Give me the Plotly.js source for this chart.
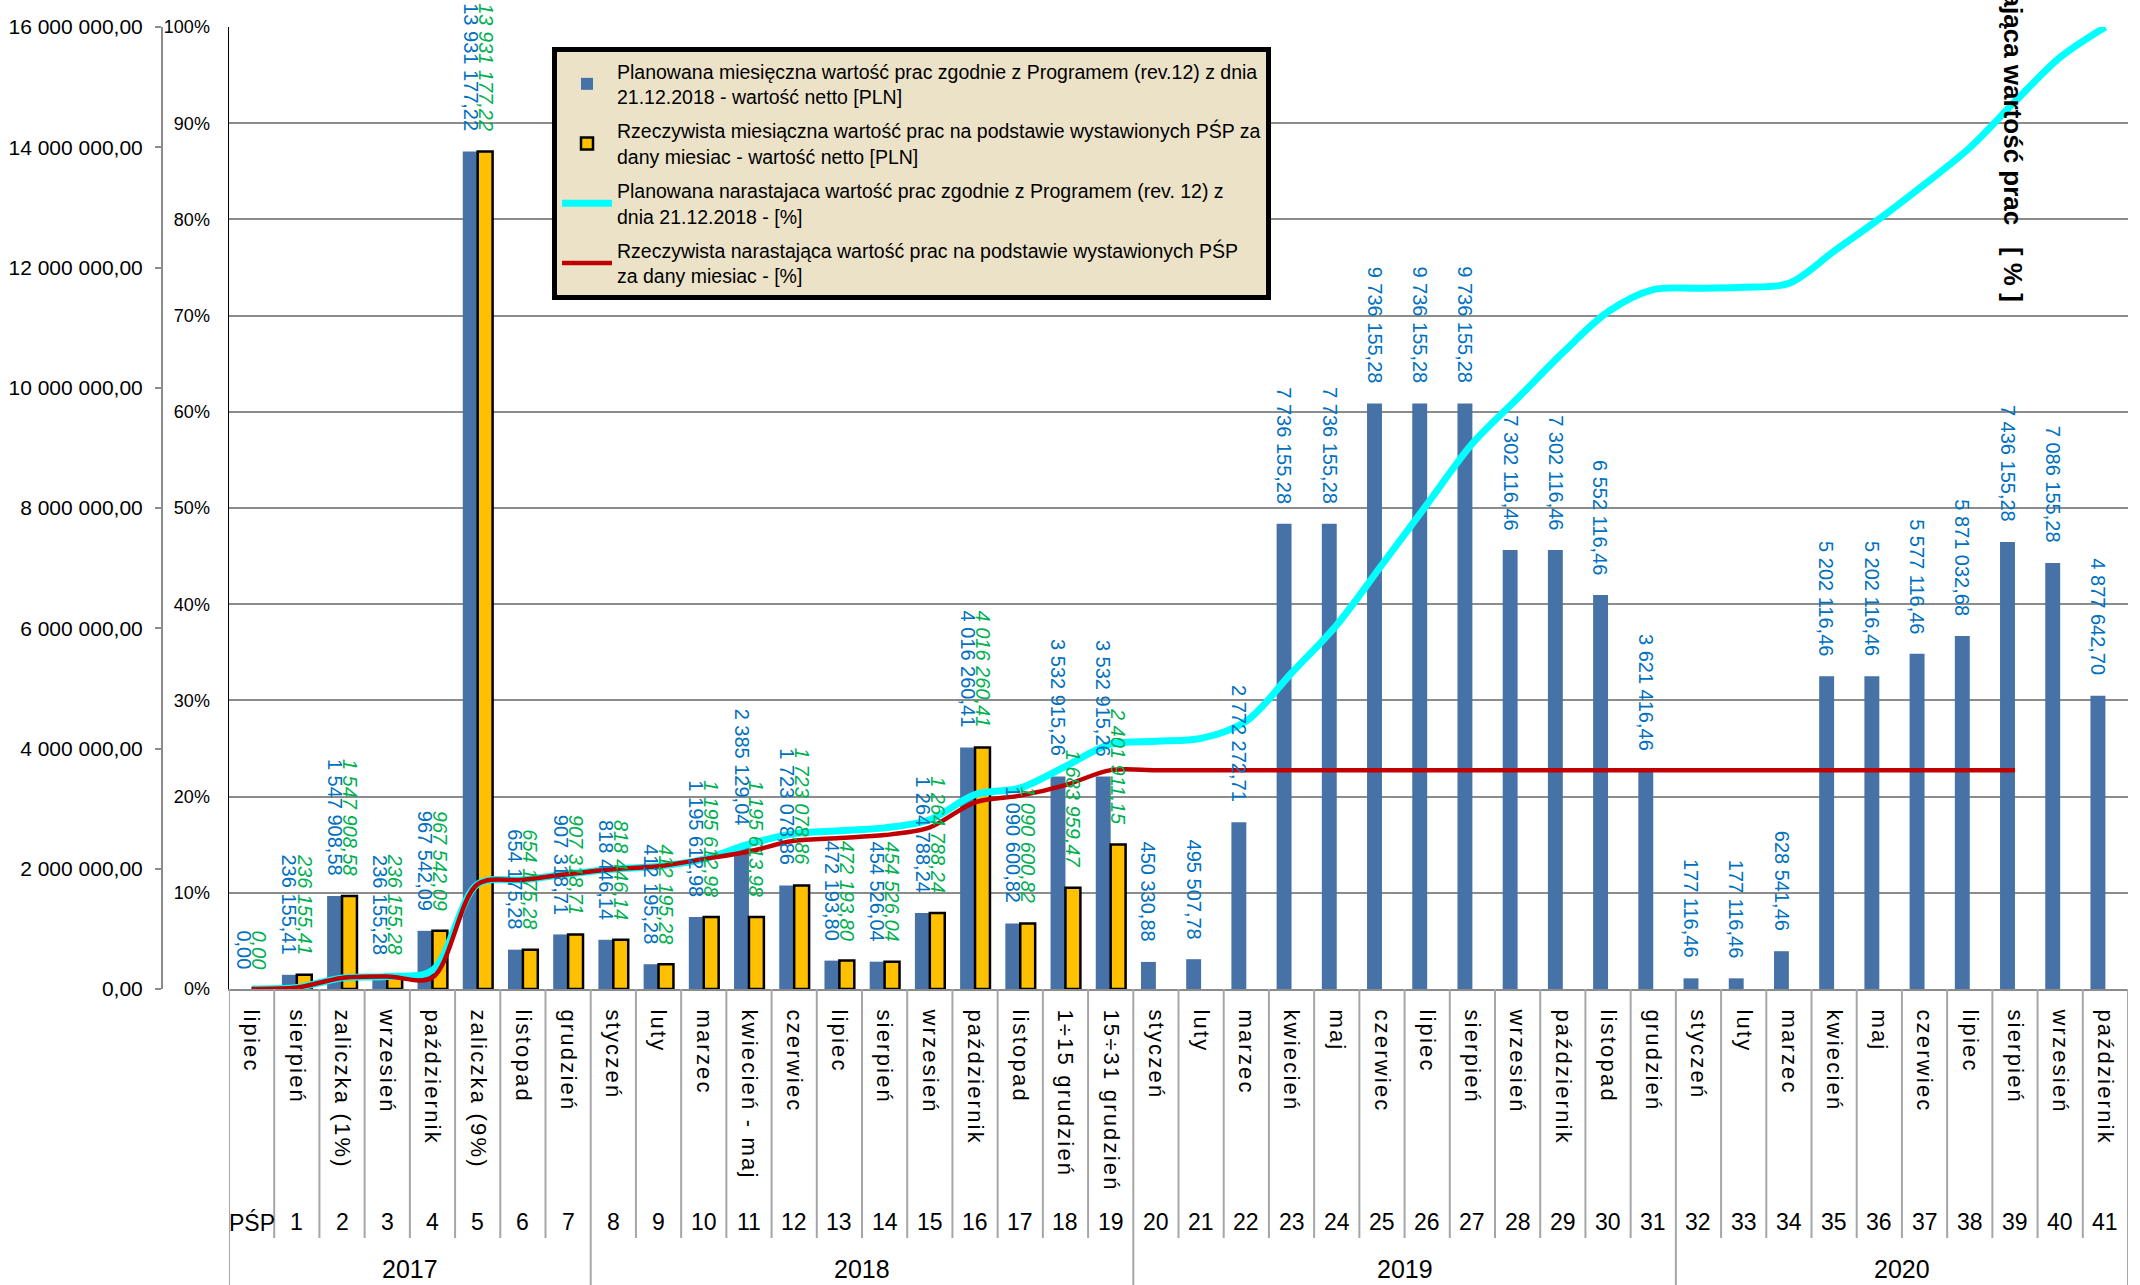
<!DOCTYPE html>
<html>
<head>
<meta charset="utf-8">
<script src="https://cdn.plot.ly/plotly-3.0.1.min.js"></script>
<style>
html,body{margin:0;padding:0;background:#fff;}
#chart{width:2140px;height:1285px;}
.xtick text{letter-spacing:2.2px;}
</style>
</head>
<body>
<div id="chart"></div>
<script>
// ---- categories ----
const psp = ['PŚP','1','2','3','4','5','6','7','8','9','10','11','12','13','14','15','16','17','18','19','20',
  '21','22','23','24','25','26','27','28','29','30','31','32','33','34','35','36','37','38','39','40','41'];
const months = ['lipiec','sierpień','zaliczka (1%)','wrzesień','październik','zaliczka (9%)','listopad','grudzień',
  'styczeń','luty','marzec','kwiecień - maj','czerwiec','lipiec','sierpień','wrzesień','październik','listopad',
  '1÷15 grudzień','15÷31 grudzień',
  'styczeń','luty','marzec','kwiecień','maj','czerwiec','lipiec','sierpień','wrzesień','październik','listopad','grudzień',
  'styczeń','luty','marzec','kwiecień','maj','czerwiec','lipiec','sierpień','wrzesień','październik'];
const years = ['2017','2017','2017','2017','2017','2017','2017','2017',
  '2018','2018','2018','2018','2018','2018','2018','2018','2018','2018','2018','2018',
  '2019','2019','2019','2019','2019','2019','2019','2019','2019','2019','2019','2019',
  '2020','2020','2020','2020','2020','2020','2020','2020','2020','2020'];

// ---- series values ----
const plannedMonthly = [0.00, 236155.41, 1547908.58, 236155.28, 967542.09, 13931177.22, 654175.28, 907318.71,
  818446.14, 412195.28, 1195612.98, 2385129.04, 1723078.86, 472193.80, 454526.04, 1264788.24, 4016260.41,
  1090600.82, 3532915.26, 3532915.26, 450330.88, 495507.78, 2772272.71, 7736155.28, 7736155.28, 9736155.28,
  9736155.28, 9736155.28, 7302116.46, 7302116.46, 6552116.46, 3621416.46, 177116.46, 177116.46, 628541.46,
  5202116.46, 5202116.46, 5577116.46, 5871032.68, 7436155.28, 7086155.28, 4877642.70];
const actualMonthly = [0.00, 236155.41, 1547908.58, 236155.28, 967542.09, 13931177.22, 654175.28, 907318.71,
  818446.14, 412195.28, 1195612.98, 1195613.98, 1723078.86, 472193.80, 454526.04, 1264788.24, 4016260.41,
  1090600.82, 1683959.47, 2401911.15];
const plannedCumPct = [0, 0.15, 1.15, 1.3, 1.95, 10.9, 11.35, 11.95, 12.45, 12.75, 13.5, 15.05, 16.15, 16.45,
  16.75, 17.6, 20.2, 20.9, 23.15, 25.45, 25.75, 26.05, 27.85, 32.85, 37.85, 44.1, 50.4, 56.7, 61.4, 66.15,
  70.4, 72.7, 72.85, 72.95, 73.35, 76.7, 80.05, 83.65, 87.45, 92.25, 96.85, 100];
const actualCumPct = [0, 0.15, 1.15, 1.3, 1.2, 10.9, 11.35, 11.95, 12.45, 12.75, 13.5, 14.3, 15.4, 15.7,
  16.0, 16.8, 19.4, 20.1, 21.2, 22.75, 22.75, 22.75, 22.75, 22.75, 22.75, 22.75, 22.75, 22.75, 22.75, 22.75,
  22.75, 22.75, 22.75, 22.75, 22.75, 22.75, 22.75, 22.75, 22.75, 22.75];

const names = [
  'Planowana miesięczna wartość prac zgodnie z Programem (rev.12) z dnia<br>21.12.2018 - wartość netto [PLN]',
  'Rzeczywista miesiączna wartość prac na podstawie wystawionych PŚP za<br>dany miesiac - wartość netto [PLN]',
  'Planowana narastajaca wartość prac zgodnie z Programem (rev. 12) z<br>dnia 21.12.2018 - [%]',
  'Rzeczywista narastająca wartość prac na podstawie wystawionych PŚP<br>za dany miesiac - [%]'
];

// ---- helpers ----
const FONT = 'Liberation Sans, Arial, sans-serif';
const idx = arr => arr.map((_, i) => i);
function fmt(v) {
  const parts = v.toFixed(2).split('.');
  return parts[0].replace(/\B(?=(\d{3})+(?!\d))/g, ' ') + ',' + parts[1];
}

const xAll = idx(psp);

const traces = [
  {type: 'bar', name: names[0], legendgroup: 'a', x: idx(plannedMonthly), y: plannedMonthly,
   marker: {color: '#4672A8', line: {width: 0}}, yaxis: 'y', hoverinfo: 'skip'},
  {type: 'bar', name: names[1], legendgroup: 'b', x: idx(actualMonthly), y: actualMonthly,
   marker: {color: '#FFC000', line: {width: 2.5, color: '#000000'}}, yaxis: 'y', hoverinfo: 'skip'},
  {type: 'scatter', mode: 'lines', name: names[2], legendgroup: 'c', x: idx(plannedCumPct), y: plannedCumPct,
   line: {color: '#00FFFF', width: 7, shape: 'spline', smoothing: 0.9}, yaxis: 'y2', hoverinfo: 'skip'},
  {type: 'scatter', mode: 'lines', name: names[3], legendgroup: 'd', x: idx(actualCumPct), y: actualCumPct,
   line: {color: '#C00000', width: 4.5, shape: 'spline', smoothing: 0.9}, yaxis: 'y2', hoverinfo: 'skip'}
];

// ---- geometry (paper fractions) ----
const W = 2140, H = 1285;
const plotL = 229 / W, plotR = 2128 / W;
const plotB = (H - 989) / H, plotT = (H - 27) / H;
const sepBottom = (H - 1238) / H;

const annotations = [];
// value labels
plannedMonthly.forEach((v, i) => {
  annotations.push({x: i, y: v, xref: 'x', yref: 'y', text: fmt(v), showarrow: false, textangle: 90,
    xanchor: 'center', yanchor: 'bottom', xshift: -7.5, yshift: 18,
    font: {family: FONT, size: 20, color: '#0070C0'}});
});
actualMonthly.forEach((v, i) => {
  annotations.push({x: i, y: v, xref: 'x', yref: 'y', text: fmt(v), showarrow: false, textangle: 90,
    xanchor: 'center', yanchor: 'bottom', xshift: 7.5, yshift: 18,
    font: {family: FONT, size: 20, color: '#00B050', style: 'italic'}});
});
// PŚP row
psp.forEach((p, i) => {
  annotations.push({x: i, y: (H - 1222) / H, xref: 'x', yref: 'paper', text: p, showarrow: false,
    xanchor: 'center', yanchor: 'middle', font: {family: FONT, size: 23, color: '#000'}});
});
// year row + separators
const shapes = [];
const yearGroups = [];
years.forEach((y, i) => {
  const g = yearGroups[yearGroups.length - 1];
  if (g && g.year === y) g.end = i; else yearGroups.push({year: y, start: i, end: i});
});
yearGroups.forEach(g => {
  annotations.push({x: (g.start + g.end) / 2, y: (H - 1269) / H, xref: 'x', yref: 'paper', text: g.year,
    showarrow: false, xanchor: 'center', yanchor: 'middle', font: {family: FONT, size: 25, color: '#000'}});
});
const yearBounds = new Set();
yearGroups.forEach(g => { yearBounds.add(g.start - 0.5); yearBounds.add(g.end + 0.5); });
for (let i = 0; i <= psp.length; i++) {
  const xb = i - 0.5;
  shapes.push({type: 'line', xref: 'x', yref: 'paper', x0: xb, x1: xb, y0: plotB,
    y1: yearBounds.has(xb) ? 0 : sepBottom, line: {color: '#A6A6A6', width: 2}, layer: 'above'});
}
// right side axis title (its beginning runs off the top edge, as in the source)
annotations.push({x: 2013 / W, y: (H - 303) / H, xref: 'paper', yref: 'paper',
  text: 'narastająca wartość prac\u00a0\u00a0\u00a0[ % ]', showarrow: false, textangle: 90,
  xanchor: 'center', yanchor: 'bottom', font: {family: FONT, size: 26, color: '#000', weight: 'bold'}});

const layout = {
  width: W, height: H,
  margin: {l: 0, r: 0, t: 0, b: 0, pad: 0},
  paper_bgcolor: '#ffffff', plot_bgcolor: '#ffffff',
  font: {family: FONT, color: '#000'},
  separators: ', ',
  barmode: 'group', bargap: 0.34, bargroupgap: 0,
  showlegend: true,
  legend: {x: 552 / W, y: (H - 47) / H, xanchor: 'left', yanchor: 'top',
    bgcolor: '#ECE2C8', bordercolor: '#000000', borderwidth: 5,
    font: {family: FONT, size: 19.5, color: '#000'}, tracegroupgap: 6, itemwidth: 50,
    traceorder: 'grouped'},
  xaxis: {domain: [plotL, plotR], range: [-0.5, psp.length - 0.5], tickmode: 'array', tickvals: xAll,
    ticktext: months, tickangle: 90, ticks: '', ticklabelstandoff: 14,
    tickfont: {family: FONT, size: 22, color: '#000'},
    showline: true, linecolor: '#8C8C8C', linewidth: 2, showgrid: false, zeroline: false,
    fixedrange: true, automargin: false},
  yaxis: {domain: [plotB, plotT], range: [0, 16000000], dtick: 2000000, tickformat: ',.2f',
    anchor: 'free', position: 162 / W, side: 'left', showline: true, linecolor: '#8C8C8C', linewidth: 2,
    ticks: 'outside', ticklen: 6, tickwidth: 2, tickcolor: '#8C8C8C', ticklabelstandoff: 8,
    tickfont: {family: FONT, size: 21, color: '#000'}, showgrid: false, zeroline: false, automargin: false},
  yaxis2: {overlaying: 'y', side: 'left', anchor: 'x', range: [0, 100], dtick: 10, ticksuffix: '%',
    showgrid: true, gridcolor: '#8C8C8C', gridwidth: 2, ticks: '', ticklabelstandoff: 14,
    tickfont: {family: FONT, size: 18, color: '#000'}, showline: true, linecolor: '#000000', linewidth: 1.5,
    zeroline: false, automargin: false},
  annotations: annotations,
  shapes: shapes
};

Plotly.newPlot('chart', traces, layout, {staticPlot: true, displayModeBar: false});
</script>
</body>
</html>
